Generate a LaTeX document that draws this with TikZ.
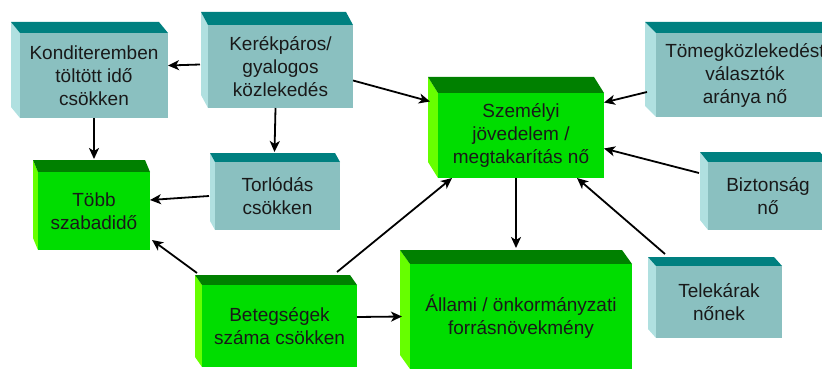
\documentclass[tikz,border=0pt]{standalone}
\usepackage{fontspec}
\setmainfont{Liberation Sans}
\usetikzlibrary{arrows.meta,calc}

% face colours of the two box kinds
\definecolor{tealfront}{RGB}{138,192,192}
\definecolor{tealtop}{RGB}{0,128,128}
\definecolor{tealleft}{RGB}{176,224,224}
\definecolor{greenfront}{RGB}{0,221,0}
\definecolor{greentop}{RGB}{0,128,0}
\definecolor{greenleft}{RGB}{102,255,0}

\tikzset{
  x=1pt, y=-1pt,
  boxtext/.style={inner sep=0pt, outer sep=0pt, align=center,
    font=\fontsize{19}{23}\selectfont, text=black!90},
  link/.style={line width=1.8pt, -{Stealth[length=11pt,width=10pt,inset=3pt]}},
}

% #1 name, #2-#5 front face x1,y1,x2,y2, #6,#7 depth, #8 palette, #9 text
\newcommand\boxthreed[9]{%
  \fill[#8left] (#2,#3) -- (#2-#6,#3-#7) -- (#2-#6,#5-#7) -- (#2,#5) -- cycle;
  \fill[#8top] (#2,#3) -- (#2-#6,#3-#7) -- (#4-#6,#3-#7) -- (#4,#3) -- cycle;
  \node[boxtext, fill=#8front, minimum width={(#4-#2)*1pt},
        minimum height={(#5-#3)*1pt}] (#1) at ({(#2+#4)/2},{(#3+#5)/2}) {#9};
}

\begin{document}
\begin{tikzpicture}
\useasboundingbox (0,0) rectangle (822,369);
\clip (0,0) rectangle (822,369);

\boxthreed{kond}{20}{33}{168}{118}{9}{11}{teal}{Konditeremben\\töltött idő\\csökken}
\boxthreed{kerek}{208}{25}{353}{108}{7}{13}{teal}{Kerékpáros/\\gyalogos\\közlekedés}
\boxthreed{szem}{438}{93}{604}{178}{10}{16}{green}{Személyi\\jövedelem /\\megtakarítás nő}
\boxthreed{tome}{656}{33}{834}{117}{11}{11}{teal}{Tömegközlekedést\\választók\\aránya nő}
\boxthreed{bizt}{708}{162}{828}{230}{8}{10}{teal}{Biztonság\\nő}
\boxthreed{tele}{656}{266}{782}{338}{8}{9}{teal}{Telekárak\\nőnek}
\boxthreed{alla}{410}{264}{632}{369}{10}{14}{green}{Állami / önkormányzati\\forrásnövekmény}
\boxthreed{bete}{202}{285}{357}{367}{7}{10}{green}{Betegségek\\száma csökken}
\boxthreed{tobb}{38}{172}{150}{250}{5}{12}{green}{Több\\szabadidő}
\boxthreed{torl}{215}{162}{340}{230}{5}{9}{teal}{Torlódás\\csökken}

% connectors
\draw[link] ($(kerek.west)+(-8,-2)$) -- ($(kond.east)+(0,-10)$);
\draw[link] ($(kerek.east)+(0,14)$) -- ($(szem.west)+(-8,-34)$);
\draw[link] ($(kerek.south)+(-5,0)$) -- ($(torl.north)+(-3,-10)$);
\draw[link] (kond.south) -- ($(tobb.north)+(0,-13)$);
\draw[link] ($(torl.west)+(-6,0)$) -- ($(tobb.east)+(0,-11)$);
\draw[link] ($(bete.north west)+(-5,-12)$) -- ($(tobb.south east)+(2,-10)$);
\draw[link] ($(bete.north east)+(-20,-13)$) -- ($(szem.south west)+(14,0)$);
\draw[link] ($(bete.east)+(0,-9)$) -- ($(alla.west)+(-8,0)$);
\draw[link] ($(szem.south)+(-5,0)$) -- ($(alla.north)+(-5,-16)$);
\draw[link] ($(tome.west)+(-9,17)$) -- ($(szem.east)+(0,-33)$);
\draw[link] ($(bizt.west)+(-9,-23)$) -- ($(szem.east)+(0,13)$);
\draw[link] ($(tele.north west)+(9,-12)$) -- ($(szem.south east)+(-27,0)$);
\end{tikzpicture}
\end{document}
